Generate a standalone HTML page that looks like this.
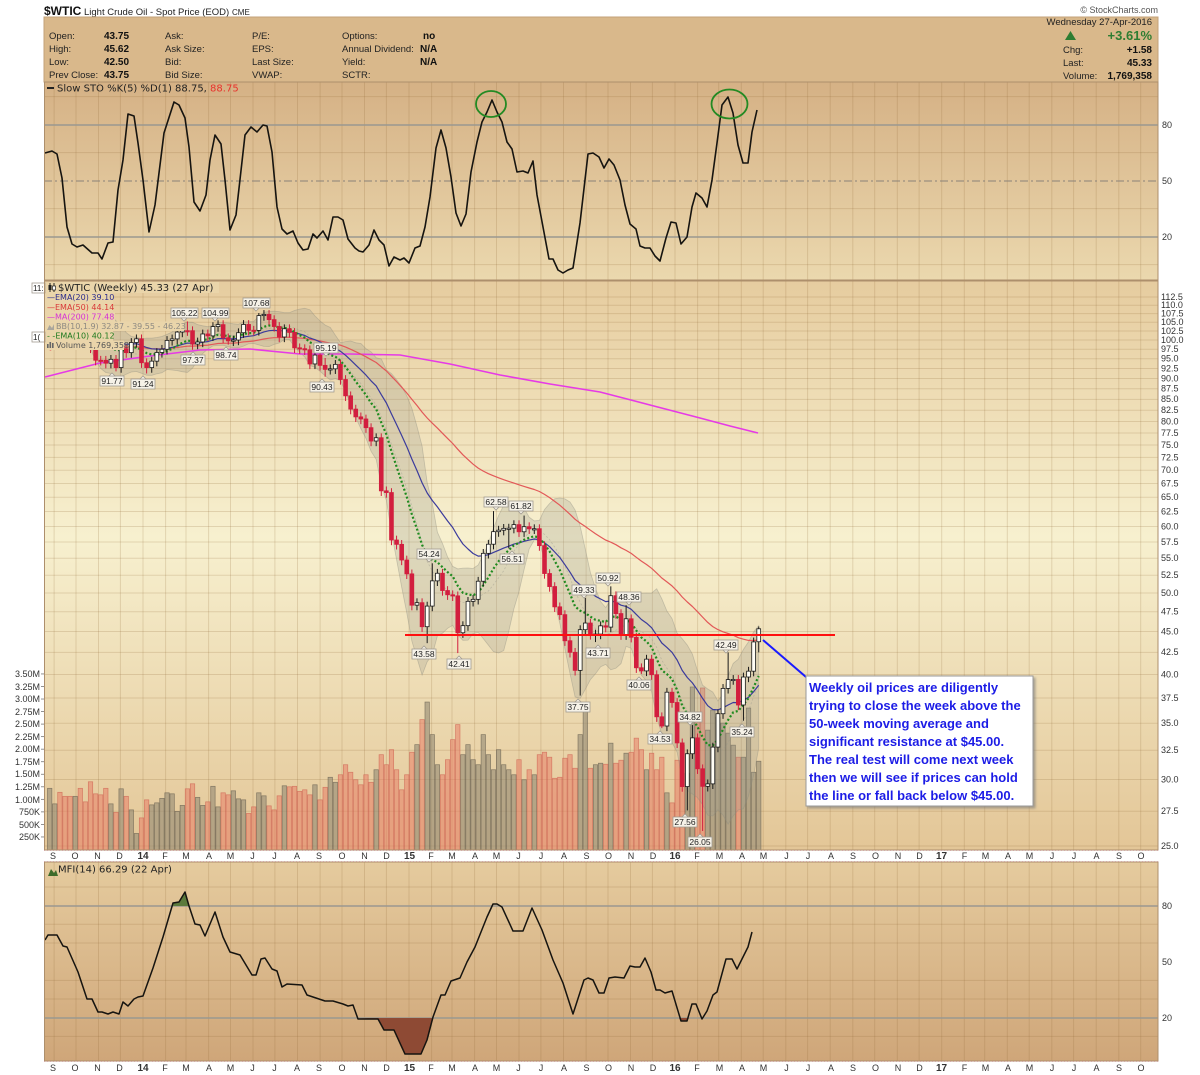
<!DOCTYPE html>
<html><head><meta charset="utf-8">
<style>
html,body{margin:0;padding:0;background:#fff;width:1200px;height:1075px;overflow:hidden;}
svg{display:block;}
.t{font-family:"Liberation Sans",Arial,sans-serif;}
.d{font-family:"DejaVu Sans",Verdana,sans-serif;}
.ax{font-family:"Liberation Sans",Arial,sans-serif;font-size:9px;fill:#333;}
.lb rect{fill:#f6f2e8;stroke:#a29c92;stroke-width:0.8;}
.lb text{font-family:"Liberation Sans",Arial,sans-serif;font-size:8.5px;fill:#222;text-anchor:middle;}
.lb path{fill:#f6f2e8;stroke:#a29c92;stroke-width:0.8;}
</style></head><body>
<svg id="s" width="1200" height="1075" viewBox="0 0 1200 1075" xmlns="http://www.w3.org/2000/svg">
<defs>
<linearGradient id="gSto" x1="0" y1="0" x2="0" y2="1"><stop offset="0" stop-color="#d5b185"/><stop offset="1" stop-color="#ebd8ae"/></linearGradient>
<linearGradient id="gPx" x1="0" y1="0" x2="0" y2="1"><stop offset="0" stop-color="#e6cc9f"/><stop offset="0.45" stop-color="#f7f0cf"/><stop offset="1" stop-color="#e3c697"/></linearGradient>
<linearGradient id="gMfi" x1="0" y1="0" x2="0" y2="1"><stop offset="0" stop-color="#e5cb9e"/><stop offset="1" stop-color="#cfa679"/></linearGradient>
<clipPath id="cPx"><rect x="44" y="281" width="1114" height="569"/></clipPath>
<clipPath id="cSto"><rect x="44" y="82" width="1114" height="198"/></clipPath>
<clipPath id="cMfi"><rect x="44" y="862" width="1114" height="199"/></clipPath>
<filter id="sh" x="-5%" y="-5%" width="115%" height="115%"><feDropShadow dx="2" dy="2" stdDeviation="1.2" flood-color="#777" flood-opacity="0.6"/></filter>
</defs>

<!-- title -->
<text x="44" y="15" class="t" font-size="12px" font-weight="bold" fill="#111">$WTIC</text>
<text x="84" y="15" class="t" font-size="9.5px" fill="#222">Light Crude Oil - Spot Price (EOD)</text>
<text x="232" y="15" class="t" font-size="8px" fill="#222">CME</text>
<text x="1158" y="13" class="t" font-size="9px" fill="#555" text-anchor="end">© StockCharts.com</text>

<!-- header box -->
<rect x="44" y="17" width="1114" height="65" fill="#d9b88b" stroke="#c3a27a" stroke-width="1"/>
<g class="t" font-size="9.5px" fill="#222">
<text x="49" y="39">Open:</text><text x="49" y="52">High:</text><text x="49" y="65">Low:</text><text x="49" y="78">Prev Close:</text>
<text x="165" y="39">Ask:</text><text x="165" y="52">Ask Size:</text><text x="165" y="65">Bid:</text><text x="165" y="78">Bid Size:</text>
<text x="252" y="39">P/E:</text><text x="252" y="52">EPS:</text><text x="252" y="65">Last Size:</text><text x="252" y="78">VWAP:</text>
<text x="342" y="39">Options:</text><text x="342" y="52">Annual Dividend:</text><text x="342" y="65">Yield:</text><text x="342" y="78">SCTR:</text>
</g>
<g class="t" font-size="10px" font-weight="bold" fill="#111">
<text x="104" y="39">43.75</text><text x="104" y="52">45.62</text><text x="104" y="65">42.50</text><text x="104" y="78">43.75</text>
<text x="423" y="39">no</text><text x="420" y="52">N/A</text><text x="420" y="65">N/A</text>
</g>
<text x="1152" y="25" class="t" font-size="9.5px" fill="#222" text-anchor="end">Wednesday  27-Apr-2016</text>
<polygon points="1065,40 1076,40 1070.5,31" fill="#2e7d32"/>
<text x="1152" y="40" class="t" font-size="13px" font-weight="bold" fill="#2e7d32" text-anchor="end">+3.61%</text>
<g class="t" font-size="9.5px" fill="#222"><text x="1063" y="53">Chg:</text><text x="1063" y="66">Last:</text><text x="1063" y="79">Volume:</text></g>
<g class="t" font-size="10px" font-weight="bold" fill="#111" text-anchor="end"><text x="1152" y="53">+1.58</text><text x="1152" y="66">45.33</text><text x="1152" y="79">1,769,358</text></g>

<!-- panels backgrounds -->
<rect x="44" y="82" width="1114" height="198" fill="url(#gSto)"/>
<rect x="44" y="281" width="1114" height="569" fill="url(#gPx)"/>
<rect x="44" y="862" width="1114" height="199" fill="url(#gMfi)"/>

<g id="grid"></g>

<!-- STO lines -->
<g stroke="#9a9890" stroke-width="1.5"><line x1="44" y1="125" x2="1158" y2="125"/><line x1="44" y1="237" x2="1158" y2="237"/></g>
<line x1="44" y1="181" x2="1158" y2="181" stroke="#8a8278" stroke-width="1" stroke-dasharray="8 3 2 3"/>
<g clip-path="url(#cSto)">
<polyline fill="none" stroke="#161410" stroke-width="1.6" stroke-linejoin="round" points="45,153 52,151 57,154 62,178 67,227 72,244 77,247 83,245 92,253 98,253 102,259 108,243 113,242 118,190 123,160 128,114 134,116 138,143 143,180 149,232 155,205 164,133 174,102 179,105 185,118 189,147 194,202 200,211 206,195 210,160 215,135 221,144 225,180 230,230 236,215 245,135 251,127 257,132 263,125 267,126 272,152 277,207 282,229 287,234 293,231 298,243 303,250 308,249 313,234 317,238 323,231 328,240 333,217 338,217 343,220 348,239 355,248 359,251 363,252 369,245 374,230 379,240 384,245 389,266 394,257 400,260 404,258 409,263 415,248 420,246 425,227 430,197 436,148 441,130 446,148 451,177 456,213 461,226 466,214 471,172 477,142 482,122 487,112 492,100 497,112 502,122 507,142 512,149 517,172 523,171 528,173 533,161 537,195 543,227 549,259 553,259 558,270 563,273 568,270 573,268 580,223 588,154 593,153 599,157 604,168 609,159 614,165 620,180 625,205 630,224 636,229 640,246 645,248 650,248 655,256 660,261 666,238 671,222 676,223 681,244 687,237 692,207 696,193 702,198 707,207 712,180 717,143 722,105 728,97 733,113 738,145 743,163 748,163 752,132 757,110"/>
</g>
<ellipse cx="491" cy="104" rx="15" ry="13" fill="none" stroke="#238a23" stroke-width="1.8"/>
<ellipse cx="729.5" cy="104" rx="18" ry="14.5" fill="none" stroke="#238a23" stroke-width="1.8"/>
<line x1="47" y1="88" x2="54" y2="88" stroke="#222" stroke-width="2"/>
<text x="57" y="91.5" class="d" font-size="10px" fill="#222">Slow STO %K(5) %D(1) 88.75, <tspan fill="#e8322c">88.75</tspan></text>
<g class="ax"><text x="1162" y="128">80</text><text x="1162" y="184">50</text><text x="1162" y="240">20</text></g>

<!-- price panel content -->
<g clip-path="url(#cPx)">
<g id="vol"></g>
<g id="bb"></g>
<polyline fill="none" stroke="#e63ae6" stroke-width="1.6" points="45,377 100,363 150,356 200,350 250,349 300,354 350,354 400,355 450,364 500,375 550,384 600,392 650,405 700,418 730,426 758,433"/>
<g id="lines"></g>
<g id="candles"></g>
</g>
<line x1="405" y1="635" x2="835" y2="635" stroke="#ff1010" stroke-width="2"/>
<line x1="763" y1="640" x2="806" y2="677" stroke="#1a1aff" stroke-width="2"/>

<!-- price labels -->
<g class="lb">
<g><rect x="171" y="308" width="27" height="10"/><path d="M181,318 L184,321 L187,318Z"/><text x="184.5" y="316">105.22</text></g>
<g><rect x="202" y="308" width="27" height="10"/><path d="M212,318 L215,321 L218,318Z"/><text x="215.5" y="316">104.99</text></g>
<g><rect x="243" y="298" width="27" height="10"/><path d="M253,308 L256,311 L259,308Z"/><text x="256.5" y="306">107.68</text></g>
<g><rect x="181" y="355" width="24" height="10"/><path d="M190,355 L193,352 L196,355Z"/><text x="193" y="363">97.37</text></g>
<g><rect x="214" y="350" width="24" height="10"/><path d="M223,350 L226,347 L229,350Z"/><text x="226" y="358">98.74</text></g>
<g><rect x="100" y="376" width="24" height="10"/><path d="M109,376 L112,373 L115,376Z"/><text x="112" y="384">91.77</text></g>
<g><rect x="131" y="379" width="24" height="10"/><path d="M140,379 L143,376 L146,379Z"/><text x="143" y="387">91.24</text></g>
<g><rect x="314" y="343" width="24" height="10"/><path d="M323,353 L326,356 L329,353Z"/><text x="326" y="351">95.19</text></g>
<g><rect x="310" y="382" width="24" height="10"/><path d="M319,382 L322,379 L325,382Z"/><text x="322" y="390">90.43</text></g>
<g><rect x="417" y="549" width="24" height="10"/><path d="M426,559 L429,562 L432,559Z"/><text x="429" y="557">54.24</text></g>
<g><rect x="412" y="649" width="24" height="10"/><path d="M421,649 L424,646 L427,649Z"/><text x="424" y="657">43.58</text></g>
<g><rect x="447" y="659" width="24" height="10"/><path d="M456,659 L459,656 L462,659Z"/><text x="459" y="667">42.41</text></g>
<g><rect x="484" y="497" width="24" height="10"/><path d="M493,507 L496,510 L499,507Z"/><text x="496" y="505">62.58</text></g>
<g><rect x="509" y="501" width="24" height="10"/><path d="M518,511 L521,514 L524,511Z"/><text x="521" y="509">61.82</text></g>
<g><rect x="500" y="554" width="24" height="10"/><path d="M509,554 L512,551 L515,554Z"/><text x="512" y="562">56.51</text></g>
<g><rect x="572" y="585" width="24" height="10"/><path d="M581,595 L584,598 L587,595Z"/><text x="584" y="593">49.33</text></g>
<g><rect x="596" y="573" width="24" height="10"/><path d="M605,583 L608,586 L611,583Z"/><text x="608" y="581">50.92</text></g>
<g><rect x="617" y="592" width="24" height="10"/><path d="M626,602 L629,605 L632,602Z"/><text x="629" y="600">48.36</text></g>
<g><rect x="586" y="648" width="24" height="10"/><path d="M595,648 L598,645 L601,648Z"/><text x="598" y="656">43.71</text></g>
<g><rect x="566" y="702" width="24" height="10"/><path d="M575,702 L578,699 L581,702Z"/><text x="578" y="710">37.75</text></g>
<g><rect x="627" y="680" width="24" height="10"/><path d="M636,680 L639,677 L642,680Z"/><text x="639" y="688">40.06</text></g>
<g><rect x="648" y="734" width="24" height="10"/><path d="M657,734 L660,731 L663,734Z"/><text x="660" y="742">34.53</text></g>
<g><rect x="678" y="712" width="24" height="10"/><path d="M687,722 L690,725 L693,722Z"/><text x="690" y="720">34.82</text></g>
<g><rect x="673" y="817" width="24" height="10"/><path d="M682,817 L685,814 L688,817Z"/><text x="685" y="825">27.56</text></g>
<g><rect x="688" y="837" width="24" height="10"/><path d="M697,837 L700,834 L703,837Z"/><text x="700" y="845">26.05</text></g>
<g><rect x="714" y="640" width="24" height="10"/><path d="M723,650 L726,653 L729,650Z"/><text x="726" y="648">42.49</text></g>
<g><rect x="730" y="727" width="24" height="10"/><path d="M739,727 L742,724 L745,727Z"/><text x="742" y="735">35.24</text></g>
</g>

<!-- price legend backgrounds -->
<g fill="#ead5aa">
<rect x="45" y="282" width="174" height="11"/>
<rect x="45" y="293" width="68" height="9.5"/>
<rect x="45" y="302.5" width="68" height="9.5"/>
<rect x="45" y="312" width="70" height="9.5"/>
<rect x="45" y="321.5" width="139" height="9.5"/>
<rect x="45" y="331" width="68" height="9.5"/>
<rect x="45" y="340.5" width="79" height="9.5"/>
</g>
<!-- price legend -->
<rect x="32" y="283" width="13" height="10" fill="#fff" stroke="#a29c92" stroke-width="0.8"/>
<text x="33" y="291" class="t" font-size="8px" fill="#222">11:</text>
<rect x="32" y="332" width="13" height="10" fill="#fff" stroke="#a29c92" stroke-width="0.8"/>
<text x="33" y="340" class="t" font-size="8px" fill="#222">1(</text>
<g><line x1="50" y1="283" x2="50" y2="292" stroke="#222"/><rect x="48.5" y="285" width="3" height="5" fill="#222"/><line x1="54" y1="283" x2="54" y2="292" stroke="#222"/><rect x="52.5" y="286" width="3" height="4" fill="#fff" stroke="#222" stroke-width="0.7"/></g>
<text x="58" y="291" class="d" font-size="10px" fill="#222">$WTIC (Weekly) 45.33 (27 Apr)</text>
<g class="d" font-size="8px">
<text x="47" y="300" fill="#2b2b8c">—EMA(20) 39.10</text>
<text x="47" y="310" fill="#d83838">—EMA(50) 44.14</text>
<text x="47" y="319.5" fill="#d633d6">—MA(200) 77.48</text>
<text x="56" y="329" fill="#8e8a82">BB(10,1.9) 32.87 - 39.55 - 46.23</text>
<text x="47" y="338.5" fill="#1f7a1f">- -EMA(10) 40.12</text>
<text x="56" y="348" fill="#555">Volume 1,769,358</text>
</g>
<polygon points="47,330 49.5,325 52,328 54,324 54,330" fill="#aaa69c"/>
<g fill="#666"><rect x="47" y="344" width="1.6" height="4"/><rect x="49.5" y="342" width="1.6" height="6"/><rect x="52" y="343" width="1.6" height="5"/></g>

<!-- right price axis -->
<g class="ax">
<text x="1161" y="300">112.5</text><text x="1161" y="308">110.0</text><text x="1161" y="316.5">107.5</text><text x="1161" y="325">105.0</text><text x="1161" y="334">102.5</text><text x="1161" y="343">100.0</text><text x="1161" y="352">97.5</text><text x="1161" y="361.5">95.0</text><text x="1161" y="371.5">92.5</text><text x="1161" y="381.5">90.0</text><text x="1161" y="391.5">87.5</text><text x="1161" y="402">85.0</text><text x="1161" y="413">82.5</text><text x="1161" y="424.5">80.0</text><text x="1161" y="436">77.5</text><text x="1161" y="448">75.0</text><text x="1161" y="460.5">72.5</text><text x="1161" y="473">70.0</text><text x="1161" y="486.5">67.5</text><text x="1161" y="500">65.0</text><text x="1161" y="514.5">62.5</text><text x="1161" y="529.5">60.0</text><text x="1161" y="545">57.5</text><text x="1161" y="561">55.0</text><text x="1161" y="578">52.5</text><text x="1161" y="596">50.0</text><text x="1161" y="614.5">47.5</text><text x="1161" y="634.5">45.0</text><text x="1161" y="655">42.5</text><text x="1161" y="677.5">40.0</text><text x="1161" y="701">37.5</text><text x="1161" y="726">35.0</text><text x="1161" y="753">32.5</text><text x="1161" y="782.5">30.0</text><text x="1161" y="814">27.5</text><text x="1161" y="849">25.0</text>
</g>
<!-- volume axis -->
<g class="ax" text-anchor="end">
<text x="40" y="677">3.50M</text><text x="40" y="690">3.25M</text><text x="40" y="702">3.00M</text><text x="40" y="715">2.75M</text><text x="40" y="727">2.50M</text><text x="40" y="740">2.25M</text><text x="40" y="752">2.00M</text><text x="40" y="765">1.75M</text><text x="40" y="777">1.50M</text><text x="40" y="790">1.25M</text><text x="40" y="803">1.00M</text><text x="40" y="815">750K</text><text x="40" y="828">500K</text><text x="40" y="840">250K</text>
</g>
<g id="vticks" stroke="#777" stroke-width="0.8"></g>

<!-- annotation -->
<rect x="806" y="676" width="227" height="130" fill="#fff" stroke="#9a9a9a" stroke-width="1" filter="url(#sh)"/>
<g class="t" font-size="13px" font-weight="bold" fill="#1c1ce6">
<text x="809" y="692">Weekly oil prices are diligently</text>
<text x="809" y="710">trying to close the week above the</text>
<text x="809" y="728">50-week moving average and</text>
<text x="809" y="746">significant resistance at $45.00.</text>
<text x="809" y="764">The real test will come next week</text>
<text x="809" y="782">then we will see if prices can hold</text>
<text x="809" y="800">the line or fall back below $45.00.</text>
</g>

<!-- MFI -->
<g stroke="#9a9890" stroke-width="1.5"><line x1="44" y1="906" x2="1158" y2="906"/><line x1="44" y1="1018" x2="1158" y2="1018"/></g>
<g clip-path="url(#cMfi)">
<polygon points="172,906 173,903 179,902 185,892 189,906" fill="#5b7a3c"/>
<polygon points="358,1018 378,1019 384,1030 394,1030 405,1054 421,1054 427,1040 433,1018" fill="#8e4a34"/>
<polygon points="679,1018 681,1021 687,1021 689,1018" fill="#8e4a34"/>
<polyline fill="none" stroke="#161410" stroke-width="1.5" stroke-linejoin="round" points="45,940 48,935 57,935 63,946 67,947 78,972 87,999 92,999 98,1012 102,1012 108,1014 113,1012 119,1014 123,1002 128,1006 134,999 138,997 143,996 153,968 163,937 173,903 179,902 185,892 189,906 195,924 200,925 205,936 215,912 223,937 230,952 240,955 252,975 256,975 261,959 265,958 272,969 277,971 282,987 287,984 302,985 307,995 325,1001 333,1001 343,1004 348,1006 353,1005 358,1019 378,1019 384,1030 394,1030 405,1054 421,1054 427,1040 433,1017 441,995 445,995 451,981 460,978 467,962 475,947 487,917 493,904 497,904 502,907 513,931 523,931 532,908 542,930 553,960 563,983 573,1014 584,980 588,978 593,980 599,993 604,993 609,978 615,977 624,978 630,966 635,967 640,967 645,958 651,972 656,990 660,990 665,993 672,991 681,1021 687,1021 692,1004 696,1004 702,1019 707,1011 713,995 717,992 726,959 732,959 737,969 748,947 752,932"/>
</g>
<polygon points="48,876 51,869 54,873 56,870 58,876" fill="#3d6b2a"/>
<text x="58" y="872.5" class="d" font-size="10px" fill="#222">MFI(14) 66.29 (22 Apr)</text>
<g class="ax"><text x="1162" y="909">80</text><text x="1162" y="965">50</text><text x="1162" y="1021">20</text></g>

<!-- borders -->
<g fill="none" stroke="#ad8f6c" stroke-width="1">
<rect x="44.5" y="82" width="1113.5" height="198"/>
<rect x="44.5" y="281" width="1113.5" height="569"/>
<rect x="44.5" y="862" width="1113.5" height="199"/>
</g>
<g stroke="#d4a8a8" stroke-width="1" stroke-dasharray="1 2">
<line x1="44" y1="850.5" x2="1158" y2="850.5"/><line x1="44" y1="861.5" x2="1158" y2="861.5"/><line x1="44" y1="1061.5" x2="1158" y2="1061.5"/>
</g>

<!-- month labels -->
<g class="ax" text-anchor="middle" font-size="8.5px">
<g>
<text x="53" y="859">S</text><text x="75" y="859">O</text><text x="97.5" y="859">N</text><text x="119.5" y="859">D</text><text x="143" y="859" font-weight="bold" font-size="10px">14</text><text x="165" y="859">F</text><text x="186" y="859">M</text><text x="209" y="859">A</text><text x="230.5" y="859">M</text><text x="252.5" y="859">J</text><text x="274.5" y="859">J</text><text x="297" y="859">A</text><text x="319" y="859">S</text><text x="342" y="859">O</text><text x="364.5" y="859">N</text><text x="386.5" y="859">D</text><text x="409.5" y="859" font-weight="bold" font-size="10px">15</text><text x="431" y="859">F</text><text x="452" y="859">M</text><text x="475" y="859">A</text><text x="496.5" y="859">M</text><text x="518.5" y="859">J</text><text x="541" y="859">J</text><text x="564" y="859">A</text><text x="586.5" y="859">S</text><text x="608.5" y="859">O</text><text x="631" y="859">N</text><text x="653" y="859">D</text><text x="675" y="859" font-weight="bold" font-size="10px">16</text><text x="697" y="859">F</text><text x="719.5" y="859">M</text><text x="742" y="859">A</text><text x="763.5" y="859">M</text><text x="786.5" y="859">J</text><text x="808" y="859">J</text><text x="831" y="859">A</text><text x="853" y="859">S</text><text x="875.5" y="859">O</text><text x="898" y="859">N</text><text x="919.5" y="859">D</text><text x="941.5" y="859" font-weight="bold" font-size="10px">17</text><text x="964.5" y="859">F</text><text x="985.5" y="859">M</text><text x="1008" y="859">A</text><text x="1029.5" y="859">M</text><text x="1052" y="859">J</text><text x="1074" y="859">J</text><text x="1096.5" y="859">A</text><text x="1119" y="859">S</text><text x="1141" y="859">O</text>
</g>
<g>
<text x="53" y="1071">S</text><text x="75" y="1071">O</text><text x="97.5" y="1071">N</text><text x="119.5" y="1071">D</text><text x="143" y="1071" font-weight="bold" font-size="10px">14</text><text x="165" y="1071">F</text><text x="186" y="1071">M</text><text x="209" y="1071">A</text><text x="230.5" y="1071">M</text><text x="252.5" y="1071">J</text><text x="274.5" y="1071">J</text><text x="297" y="1071">A</text><text x="319" y="1071">S</text><text x="342" y="1071">O</text><text x="364.5" y="1071">N</text><text x="386.5" y="1071">D</text><text x="409.5" y="1071" font-weight="bold" font-size="10px">15</text><text x="431" y="1071">F</text><text x="452" y="1071">M</text><text x="475" y="1071">A</text><text x="496.5" y="1071">M</text><text x="518.5" y="1071">J</text><text x="541" y="1071">J</text><text x="564" y="1071">A</text><text x="586.5" y="1071">S</text><text x="608.5" y="1071">O</text><text x="631" y="1071">N</text><text x="653" y="1071">D</text><text x="675" y="1071" font-weight="bold" font-size="10px">16</text><text x="697" y="1071">F</text><text x="719.5" y="1071">M</text><text x="742" y="1071">A</text><text x="763.5" y="1071">M</text><text x="786.5" y="1071">J</text><text x="808" y="1071">J</text><text x="831" y="1071">A</text><text x="853" y="1071">S</text><text x="875.5" y="1071">O</text><text x="898" y="1071">N</text><text x="919.5" y="1071">D</text><text x="941.5" y="1071" font-weight="bold" font-size="10px">17</text><text x="964.5" y="1071">F</text><text x="985.5" y="1071">M</text><text x="1008" y="1071">A</text><text x="1029.5" y="1071">M</text><text x="1052" y="1071">J</text><text x="1074" y="1071">J</text><text x="1096.5" y="1071">A</text><text x="1119" y="1071">S</text><text x="1141" y="1071">O</text>
</g>
</g>
</svg>
<script>
(function(){
var NS="http://www.w3.org/2000/svg";
function el(t,a,p){var e=document.createElementNS(NS,t);for(var k in a)e.setAttribute(k,a[k]);p.appendChild(e);return e;}
function Y(p){return 846-365*Math.log(p/25);}
function X(i){return 49.7+5.101*i;}
var pre=[97.85,96.56,103.22,105.95,108.05,106.89,104.70,105.97,107.46,106.42];
var C=[107.65,110.53,108.21,104.67,102.87,103.84,102.02,100.81,97.85,94.61,
94.60,93.84,94.84,92.72,97.65,96.60,99.32,100.32,93.96,92.72,
94.37,96.64,97.49,99.88,100.30,102.20,102.59,102.58,98.89,99.46,
101.67,101.14,103.74,104.30,100.60,99.76,99.99,102.02,104.35,102.71,
102.66,106.91,107.26,105.74,103.77,100.83,103.13,102.09,97.88,97.65,
97.35,93.65,95.96,93.29,92.27,92.41,93.54,89.74,85.82,82.75,
81.01,80.54,78.65,75.82,76.51,66.15,65.84,57.81,57.13,54.73,
52.69,48.36,48.69,45.59,48.24,51.69,52.78,50.34,49.76,49.61,
44.84,45.72,48.87,49.14,51.64,55.74,57.15,59.15,59.39,59.69,
59.72,60.30,59.13,59.96,59.61,59.63,56.93,52.74,50.89,48.14,
47.12,43.87,42.50,40.45,45.22,46.05,44.63,44.68,45.70,45.54,
49.63,47.26,44.60,46.59,44.29,40.74,40.39,41.71,39.97,35.62,
34.73,38.10,37.04,33.16,29.42,32.19,33.62,30.89,29.44,29.64,
32.78,35.92,38.50,39.44,39.46,36.79,39.72,40.36,43.73,45.33];
var V=[1.23,0.92,1.15,1.07,1.07,1.07,1.23,0.96,1.36,1.12,
1.10,1.23,0.92,0.75,1.22,1.07,0.80,0.33,0.64,1.00,
0.90,0.94,1.03,1.14,1.12,0.77,0.89,1.22,1.32,1.05,
0.89,0.96,1.27,0.86,1.14,1.10,1.18,1.02,1.00,0.73,
0.86,1.14,1.08,0.88,0.80,1.08,1.28,1.26,1.27,1.17,
1.20,1.10,1.30,1.00,1.25,1.45,1.35,1.50,1.70,1.55,
1.40,1.30,1.50,1.35,1.60,1.90,1.70,2.00,1.60,1.20,
1.50,1.95,2.10,2.60,2.95,2.30,1.70,1.50,1.80,2.20,
2.50,1.90,2.10,1.80,1.70,2.30,1.90,1.60,2.00,1.70,
1.60,1.50,1.80,1.40,1.60,1.50,1.90,1.95,1.85,1.43,
1.45,1.83,1.90,1.63,2.30,2.80,1.63,1.70,1.73,1.71,
2.13,1.73,1.79,1.93,1.95,2.23,2.00,1.60,1.93,1.60,
1.85,1.14,0.94,1.79,2.09,1.53,3.25,2.75,3.23,2.39,
2.79,2.65,2.53,2.33,2.09,1.85,1.85,2.83,1.55,1.77];
var all=pre.concat(C);
var g=document.getElementById('grid');
var months=[54.1,76,98.5,120.4,143,165.6,186,208.6,230.5,253,274.9,297.5,320.1,342,364.5,386.4,409,431.6,452,474.6,496.5,519,540.9,563.5,586.1,608,630.5,652.4,675,697.6,718.7,741.3,763.2,785.8,807.6,830.2,852.8,874.7,897.3,919.1,941.7,964.3,984.7,1007.3,1029.2,1051.8,1073.6,1096.2,1118.8,1140.7];
var gc="rgba(140,100,50,0.2)";
months.forEach(function(x){
 el('line',{x1:x,y1:82,x2:x,y2:280,stroke:gc,'stroke-width':1},g);
 el('line',{x1:x,y1:281,x2:x,y2:850,stroke:gc,'stroke-width':1},g);
 el('line',{x1:x,y1:862,x2:x,y2:1061,stroke:gc,'stroke-width':1},g);
});
for(var p=25;p<=112.51;p+=2.5){var y=Y(p);el('line',{x1:44,y1:y,x2:1158,y2:y,stroke:gc,'stroke-width':1},g);}
[95,65,35,5].forEach(function(v){var y=274-1.867*v;el('line',{x1:44,y1:y,x2:1158,y2:y,stroke:gc,'stroke-width':1},g);});
[90,70,60,40,30,10].forEach(function(v){var y=1055-1.867*v;el('line',{x1:44,y1:y,x2:1158,y2:y,stroke:gc,'stroke-width':1},g);});
var vt=document.getElementById('vticks');
for(var n=1;n<=14;n++){var yy=849.5-n*12.54;el('line',{x1:41,y1:yy,x2:44,y2:yy},vt);}
var vg=document.getElementById('vol');
for(var i=0;i<C.length;i++){
 var prev=i==0?pre[pre.length-1]:C[i-1];
 var up=C[i]>=prev;
 var h=V[i]/0.25*12.54;
 el('rect',{x:X(i)-2.2,y:850-h,width:4.4,height:h,
  fill:up?'rgba(150,140,118,0.62)':'rgba(232,128,104,0.55)',
  stroke:up?'rgba(105,98,82,0.75)':'rgba(205,95,80,0.7)','stroke-width':0.7},vg);
}
function ema(n,seed){var k=2/(n+1),e=seed,out=[];for(var j=0;j<all.length;j++){e=e+(all[j]-e)*k;out.push(e);}return out.slice(pre.length);}
var e10=ema(10,96),e20=ema(20,95),e50=ema(50,93);
var bu=[],bl=[],bm=[];
for(var i=0;i<C.length;i++){var j=i+pre.length;var w=all.slice(j-9,j+1);var m=0;w.forEach(function(v){m+=v;});m/=10;var s=0;w.forEach(function(v){s+=(v-m)*(v-m);});s=Math.sqrt(s/10);bu.push(m+1.9*s);bl.push(m-1.9*s);bm.push(m);}
var bg=document.getElementById('bb');
var pts=[];for(var i=0;i<C.length;i++)pts.push(X(i).toFixed(1)+','+Y(bu[i]).toFixed(1));
for(var i=C.length-1;i>=0;i--)pts.push(X(i).toFixed(1)+','+Y(bl[i]).toFixed(1));
el('polygon',{points:pts.join(' '),fill:'rgba(150,150,138,0.26)',stroke:'rgba(140,140,128,0.4)','stroke-width':0.8},bg);
function line(arr,attrs,parent){var p=[];for(var i=0;i<arr.length;i++)p.push(X(i).toFixed(1)+','+Y(arr[i]).toFixed(1));attrs.points=p.join(' ');attrs.fill='none';attrs['stroke-linejoin']='round';el('polyline',attrs,parent);}
line(bm,{stroke:'rgba(150,150,140,0.45)','stroke-width':0.8,'stroke-dasharray':'2 2'},bg);
var lg=document.getElementById('lines');
line(e50,{stroke:'#e25858','stroke-width':1.2},lg);
line(e20,{stroke:'#3b3b9c','stroke-width':1.2},lg);
line(e10,{stroke:'#1f8a1f','stroke-width':2.2,'stroke-dasharray':'2 2.2'},lg);
var H={27:105.22,32:104.99,41:107.68,54:95.19,75:54.24,87:62.58,93:61.82,105:49.33,110:50.92,113:48.36,126:34.82,133:42.49,139:45.62};
var L={13:91.77,19:91.24,28:97.37,35:98.74,54:90.43,74:43.58,80:42.41,90:56.51,104:37.75,107:43.71,116:40.06,120:34.53,125:27.56,128:26.05,136:35.24,139:42.50};
var cg=document.getElementById('candles');
for(var i=0;i<C.length;i++){
 var o=i==0?pre[pre.length-1]:C[i-1]; if(i==139)o=43.75;
 var c=C[i];
 var hi=Math.max(o,c)*1.012, lo=Math.min(o,c)*0.986;
 if(H[i]!==undefined)hi=Math.max(H[i],Math.max(o,c));
 if(L[i]!==undefined)lo=Math.min(L[i],Math.min(o,c));
 var x=X(i), upc=c>=o;
 var col=upc?'#1a1a1a':'#d21e3e';
 el('line',{x1:x,y1:Y(hi),x2:x,y2:Y(lo),stroke:col,'stroke-width':1},cg);
 var yt=Y(Math.max(o,c)), yb=Y(Math.min(o,c)); if(yb-yt<1.2){yb=yt+1.2;}
 el('rect',{x:x-1.9,y:yt,width:3.8,height:yb-yt,fill:upc?'#fffdf5':'#d21e3e',stroke:col,'stroke-width':0.8},cg);
}
})();
</script>
</body></html>
